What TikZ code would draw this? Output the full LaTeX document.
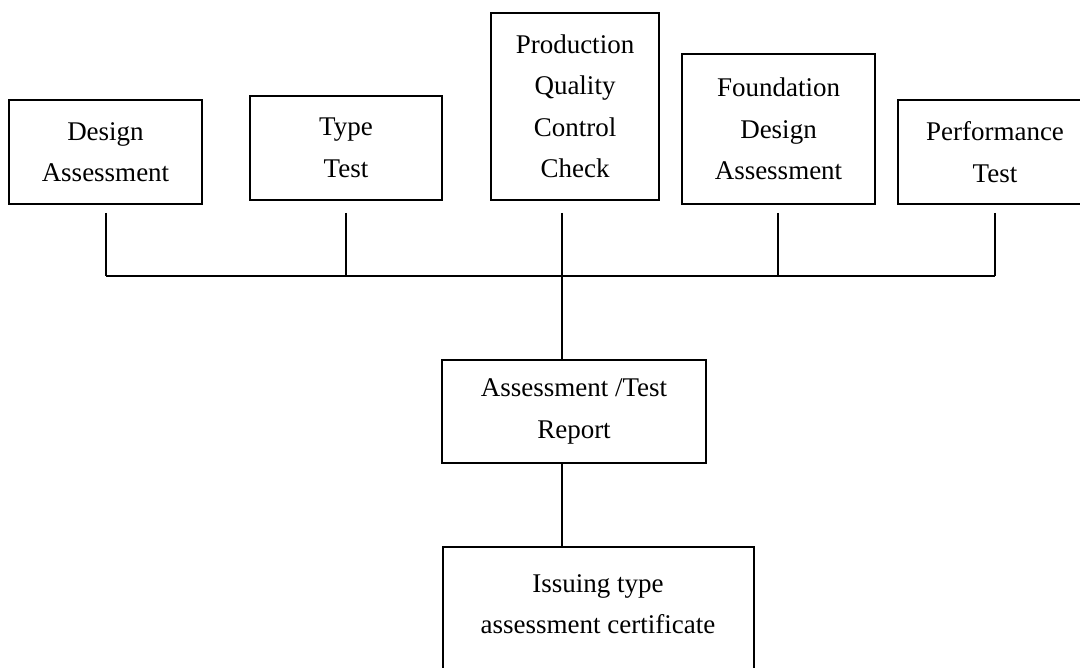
\documentclass[tikz,border=0pt]{standalone}
\usepackage{fontspec}
\setmainfont{Liberation Serif}
\begin{document}
\begin{tikzpicture}[x=1pt,y=-1pt,
  box/.style={draw=black,line width=1.8pt,rectangle,align=center,inner sep=0pt,
    font=\fontsize{27}{41.5}\selectfont},
  conn/.style={draw=black,line width=1.8pt}]
\clip (0,0) rectangle (1080,668);
\useasboundingbox (0,0) rectangle (1080,668);
% boxes
\node[box,minimum width=193pt,minimum height=104pt] (des) at (105.5,152) {Design\\Assessment};
\node[box,minimum width=192pt,minimum height=104pt] (typ) at (346,148) {Type\\Test};
\node[box,minimum width=168pt,minimum height=187pt] (pro) at (575,106.5) {Production\\Quality\\Control\\Check};
\node[box,minimum width=193pt,minimum height=150pt] (fou) at (778.5,129) {Foundation\\Design\\Assessment};
\node[box,minimum width=194pt,minimum height=104pt] (per) at (995,152) {Performance\\Test};
\node[box,minimum width=264pt,minimum height=103pt] (rep) at (574,411.5) {Assessment /Test\\Report};
\node[box,minimum width=311pt,minimum height=143pt] (iss) at (598.5,618.5) {};
\node[align=center,inner sep=0pt,font=\fontsize{27}{41.5}\selectfont] (isstxt) at (598,604) {Issuing type\\assessment certificate};
% connector ends
\coordinate (t1) at (106,213);
\coordinate (t2) at (346,213);
\coordinate (t3) at (562,213);
\coordinate (t4) at (778,213);
\coordinate (t5) at (995,213);
\coordinate (b1) at (106,276);
\coordinate (b2) at (346,276);
\coordinate (b3) at (562,276);
\coordinate (b4) at (778,276);
\coordinate (b5) at (995,276);
\draw[conn] (t1) -- (b1);
\draw[conn] (t2) -- (b2);
\draw[conn] (t4) -- (b4);
\draw[conn] (t5) -- (b5);
\draw[conn] (b1) -- (b5);
\draw[conn] (t3) -- (rep.north -| t3);
\draw[conn] (rep.south -| t3) -- (iss.north -| t3);
\end{tikzpicture}
\end{document}
